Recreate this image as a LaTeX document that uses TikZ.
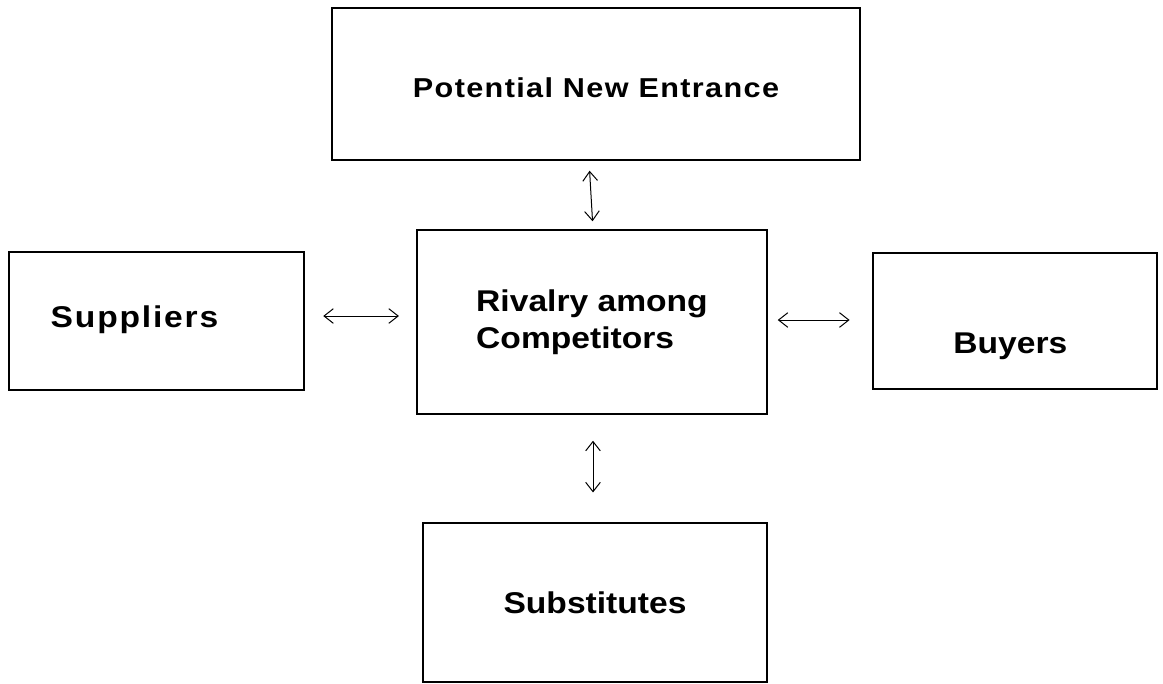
\documentclass[tikz,border=0pt]{standalone}
\usepackage{fontspec}
\setmainfont{Liberation Sans}
\usetikzlibrary{arrows.meta}

\begin{document}
\begin{tikzpicture}[x=0.75pt, y=-0.75pt, >={Straight Barb[length=7pt,width=11pt]},
  font=\bfseries\fontsize{22.5}{27.75}\selectfont\addfontfeatures{FakeStretch=1.12},
  box/.style={draw, line width=1.1pt, inner sep=0pt},
  link/.style={<->, line width=0.75pt}]
\useasboundingbox (0,0) rectangle (1163,683);
\node[box, minimum width=396pt, minimum height=114pt,
  font=\bfseries\fontsize{20.5}{24}\selectfont\addfontfeatures{FakeStretch=1.12,LetterSpace=5}] (entr) at (596,84) {\raisebox{-3pt}[\height][\depth]{Potential New Entrance}};
\node[box, minimum width=262.5pt, minimum height=138pt, align=left] (rival) at (592,322) {Rivalry among\\Competitors};
\node[box, minimum width=221pt, minimum height=103.5pt,
  label={[xshift=-16.5pt, yshift=1pt]center:\addfontfeatures{LetterSpace=6}Suppliers}] (supp) at (156.5,321) {};
\node[box, minimum width=213pt, minimum height=102pt,
  label={[xshift=-3.5pt, yshift=-19pt]center:Buyers}] (buy) at (1015,321) {};
\node[box, minimum width=258pt, minimum height=119pt] (subst) at (595,602.5) {Substitutes};
\draw[link, shorten <=7.5pt, shorten >=6pt] ([xshift=-5.25pt]entr.south) -- ([xshift=-2.25pt]entr.south |- rival.north);
\draw[link, shorten <=19.5pt, shorten >=22.5pt] ([xshift=0.75pt]rival.south) -- ([xshift=0.75pt]rival.south |- subst.north);
\draw[link, shorten <=14pt, shorten >=13pt] ([yshift=3.75pt]supp.east) -- ([yshift=3.75pt]supp.east -| rival.west);
\draw[link, shorten <=7.5pt, shorten >=17pt] ([yshift=1.5pt]rival.east) -- ([yshift=1.5pt]rival.east -| buy.west);
\end{tikzpicture}
\end{document}
